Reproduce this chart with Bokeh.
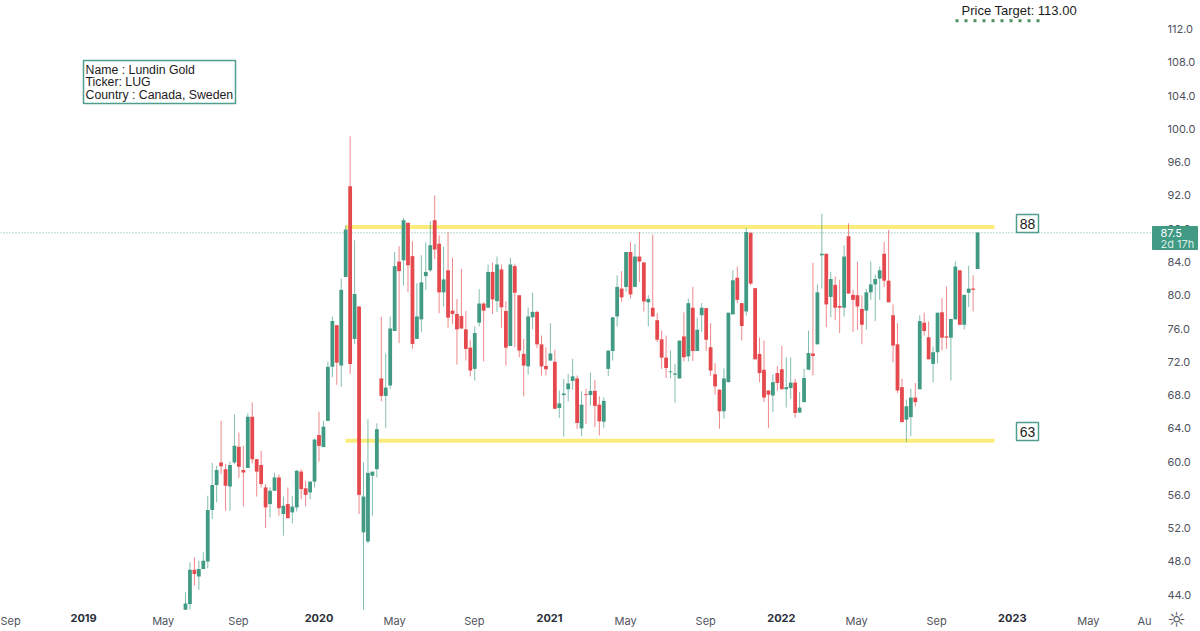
from bokeh.plotting import figure
from bokeh.models import Range1d, FixedTicker, Label, LinearAxis, NumeralTickFormatter
from bokeh.embed import file_html
from bokeh.resources import INLINE

open_ = [42.2,42.9,47.0,46.2,47.1,48.0,54.2,57.2,59.9,59.1,
 57.0,59.9,61.8,59.0,59.25,65.4,60.3,59.6,56.9,54.9,
 56.5,58.1,53.7,54.9,53.9,54.5,58.8,56.8,56.3,57.6,
 63.2,61.75,64.9,71.4,76.4,71.55,82.2,93.1,74.75,78.65,
 51.5,50.4,58.3,59.1,70.0,67.9,69.15,75.7,84.05,84.2,
 88.7,84.7,74.75,77.1,82.3,83.0,89.0,86.2,80.35,83.0,
 78.15,77.75,77.5,75.9,73.7,71.15,76.7,79.0,78.5,82.8,
 79.3,83.1,78.1,73.9,83.5,80.0,72.95,71.45,77.35,78.0,
 74.1,71.5,72.15,72.0,66.45,68.0,68.7,69.7,70.0,64.0,
 68.1,68.0,68.5,66.85,64.8,71.15,73.3,77.45,80.8,81.0,
 85.2,81.0,84.65,83.95,79.15,78.5,77.0,74.7,72.5,70.75,
 70.45,70.0,75.05,72.65,78.5,73.3,77.6,78.45,73.75,70.5,
 68.65,66.05,69.55,77.7,82.1,79.05,78.05,87.5,80.85,72.95,
 71.05,68.55,67.95,70.65,71.1,68.7,68.85,69.5,65.9,67.15,
 71.05,73.0,74.1,84.8,85.0,79.8,81.25,78.7,78.5,87.1,
 80.05,80.0,78.35,78.15,80.35,81.3,82.0,85.0,81.75,77.6,
 74.1,68.95,65.05,65.35,67.7,68.7,76.7,74.95,71.75,73.15,
 77.95,75.05,74.9,77.1,83.0,76.45,80.3,80.8,83.15]

close = [42.95,47.0,46.5,47.1,48.1,54.2,57.2,59.0,59.45,57.1,
 59.6,61.9,59.4,58.7,65.4,60.3,58.8,57.3,54.5,56.5,
 58.1,54.4,54.7,53.2,54.6,58.9,56.7,56.0,57.6,62.65,
 61.9,64.2,71.4,76.9,71.9,80.65,87.9,71.75,80.15,56.0,
 55.8,58.65,58.8,63.9,67.9,68.9,76.0,83.5,82.9,89.0,
 83.6,74.15,77.45,81.55,82.8,86.0,85.5,80.35,81.9,77.3,
 77.75,75.9,76.0,73.55,70.95,75.45,79.0,78.15,82.8,79.5,
 83.7,78.55,73.7,83.7,80.3,73.35,71.55,77.45,78.0,74.1,
 71.45,71.1,73.0,66.35,67.0,68.2,69.4,70.25,64.65,66.85,
 68.0,68.5,66.7,64.85,67.3,73.35,77.35,81.0,79.75,85.2,
 80.1,84.65,84.05,79.25,79.55,77.45,74.65,72.5,71.25,70.85,
 70.6,74.55,72.55,79.05,73.3,75.85,78.5,74.65,70.95,69.05,
 66.05,70.0,77.9,81.8,79.45,76.3,87.6,81.4,72.3,70.65,
 67.7,68.05,69.55,69.45,68.7,68.95,69.5,65.85,66.5,70.05,
 73.05,72.7,80.35,85.0,78.9,81.95,78.5,78.5,84.65,80.2,
 79.45,78.65,76.45,80.35,81.3,81.95,83.0,81.75,79.15,73.95,
 68.55,64.75,66.65,67.7,67.15,76.9,75.7,72.3,73.15,77.9,
 74.9,74.9,77.15,83.45,76.45,80.05,80.8,80.65,87.55]

high = [44.3,47.9,48.5,48.1,49.1,55.9,59.85,59.5,64.9,59.7,
 60.0,65.7,63.5,61.9,65.8,67.1,60.3,61.3,57.3,56.9,
 58.65,58.45,55.8,56.9,55.9,59.0,59.1,57.7,57.6,62.8,
 66.0,64.9,72.0,77.4,76.4,82.0,88.4,99.1,86.6,78.65,
 59.9,65.1,58.8,64.6,77.4,73.0,77.45,85.2,85.9,89.3,
 88.7,86.5,81.45,84.8,86.35,88.9,92.0,87.2,85.85,87.6,
 84.5,79.55,83.15,78.1,74.65,76.25,80.75,79.15,83.7,83.9,
 84.65,83.7,79.3,84.5,83.8,80.0,74.75,78.5,80.3,78.15,
 75.15,73.75,76.65,73.45,68.55,69.95,70.55,72.35,70.35,68.45,
 68.75,70.7,69.85,67.85,67.75,73.35,77.35,82.4,82.9,85.2,
 86.4,86.2,87.6,83.95,80.0,87.3,77.85,75.75,75.15,73.35,
 71.75,74.55,77.95,79.6,81.0,77.3,79.05,78.45,76.65,71.85,
 68.65,71.2,77.9,83.0,83.45,79.05,88.1,87.5,80.85,74.9,
 74.55,68.55,70.5,71.5,73.9,72.55,72.55,69.95,68.35,71.15,
 75.75,83.9,81.3,89.8,85.0,82.8,82.25,81.85,86.0,88.65,
 80.65,84.05,79.95,80.75,84.05,82.5,83.45,86.4,87.85,78.9,
 76.65,69.95,67.45,68.75,69.45,77.6,77.9,76.85,73.85,77.9,
 79.65,81.05,77.15,84.05,83.0,80.05,83.55,82.4,87.55]

low = [42.2,42.2,45.1,44.6,47.1,47.2,53.1,55.1,58.5,54.1,
 54.1,59.7,58.05,54.6,59.25,59.8,55.8,56.9,52.0,53.3,
 56.5,53.5,51.1,53.2,52.6,54.0,55.5,54.6,55.5,56.9,
 60.0,61.75,64.9,70.15,69.25,69.0,82.2,70.55,74.15,53.7,
 42.2,50.2,53.5,58.1,67.25,64.05,68.75,75.7,74.25,81.15,
 80.35,73.55,74.75,75.55,80.65,82.8,84.35,77.85,78.65,76.1,
 76.55,71.65,76.0,72.15,70.25,69.75,76.25,72.05,78.5,77.75,
 78.0,76.1,71.55,73.9,73.75,72.55,67.85,70.45,75.9,73.65,
 70.35,70.35,72.15,66.35,65.25,63.0,67.25,68.65,63.95,63.05,
 64.55,66.75,64.15,63.15,64.05,70.3,72.15,76.25,79.2,80.4,
 79.6,81.0,81.6,78.05,76.25,77.4,74.35,71.15,70.05,70.05,
 67.1,70.0,72.05,72.05,72.1,73.3,75.55,73.3,70.3,68.05,
 63.95,65.15,69.55,77.7,79.05,74.55,77.55,81.2,72.3,69.55,
 67.15,64.05,65.95,68.55,68.7,66.5,67.55,65.25,65.9,67.15,
 71.05,70.35,74.1,80.8,76.15,77.35,77.05,75.45,77.45,80.2,
 75.55,75.85,74.1,75.85,79.4,76.9,79.45,80.95,79.15,71.95,
 68.25,64.75,62.35,63.05,66.65,68.7,75.15,72.3,69.55,71.85,
 73.35,73.55,69.75,77.1,76.45,75.9,78.6,78.05,83.15]

month_ticks = [-39.5, -5.0, 11.9, 47.0, 64.9, 98.9, 116.9, 150.8, 168.8, 202.9, 215.5]
month_labels = ["Sep", "May", "Sep", "May", "Sep", "May", "Sep", "May", "Sep", "May", "Au"]
year_ticks = [-22.9, 30.0, 81.8, 133.9, 185.8]
year_labels = ["2019", "2020", "2021", "2022", "2023"]
price_ticks = [44, 48, 52, 56, 60, 64, 68, 72, 76, 80, 84, 88, 92, 96, 100, 104, 108, 112]

last_price = 87.5
resistance = 88.2
support = 62.5
target = 113.0

GREEN = "#419a84"
RED = "#e5484d"
BORDER = "#4f9d8d"
YELLOW = "#fcec7c"
AXIS_TEXT = "#50535e"


def x_at(px):
    return (px - 185) / 4.45


def y_at(py):
    return 112 - (py - 28.5) / 8.32


p = figure(width=1200, height=631, output_backend="svg", toolbar_location=None,
           x_range=Range1d(x_at(0), x_at(1200)), y_range=Range1d(y_at(631), y_at(0)),
           x_axis_location="below", y_axis_location="right",
           min_border_left=0, min_border_top=0, min_border_right=0, min_border_bottom=0,
           background_fill_color="white", border_fill_color="white", outline_line_color=None)
p.grid.visible = False


def style_axis(ax, color=AXIS_TEXT, weight="normal"):
    ax.axis_line_color = None
    ax.major_tick_line_color = None
    ax.minor_tick_line_color = None
    ax.major_label_text_font = "Inter"
    ax.major_label_text_font_size = "11px"
    ax.major_label_text_color = color
    ax.major_label_text_font_style = weight


style_axis(p.xaxis[0])
style_axis(p.yaxis[0])

p.xaxis[0].ticker = FixedTicker(ticks=month_ticks)
p.xaxis[0].major_label_overrides = dict(zip(month_ticks, month_labels))
p.xaxis[0].major_label_standoff = 4
p.xaxis[0].fixed_location = y_at(603)
p.yaxis[0].ticker = FixedTicker(ticks=price_ticks)
p.yaxis[0].formatter = NumeralTickFormatter(format="0.0")
p.yaxis[0].major_label_standoff = 11
p.yaxis[0].fixed_location = x_at(1150)

year_axis = LinearAxis(ticker=FixedTicker(ticks=year_ticks),
                       major_label_overrides=dict(zip(year_ticks, year_labels)),
                       major_label_standoff=4, fixed_location=y_at(603))
style_axis(year_axis, "#2a2e39", "bold")
p.add_layout(year_axis, "below")

# reference lines
p.line([x_at(0), x_at(1150)], [last_price, last_price], line_color=BORDER, line_width=1,
       line_dash="1 2", line_alpha=0.8)
p.line([x_at(345), x_at(994)], [resistance, resistance], line_color=YELLOW, line_width=4)
p.line([x_at(345), x_at(994)], [support, support], line_color=YELLOW, line_width=4)
p.line([x_at(955), x_at(1040)], [target, target], line_color="#4f8f5f", line_width=3,
       line_dash="3 6")

# candles
bars = list(range(len(close)))
up = [i for i in bars if close[i] >= open_[i]]
down = [i for i in bars if close[i] < open_[i]]
for idx, col in ((up, GREEN), (down, RED)):
    xs = [bars[i] for i in idx]
    p.segment(xs, [low[i] for i in idx], xs, [high[i] for i in idx], line_color=col,
              line_width=1, line_alpha=0.65)
    p.vbar(xs, width=0.85, bottom=[min(open_[i], close[i]) for i in idx],
           top=[max(open_[i], close[i]) for i in idx], fill_color=col, line_color=None)


def text(px, py, s, size="12.3px", color="#1c1c1c", font="Liberation Sans", align="left", style="normal"):
    p.add_layout(Label(x=x_at(px), y=y_at(py), text=s, text_font=font, text_font_size=size,
                       text_color=color, text_align=align, text_baseline="middle",
                       text_font_style=style, level="overlay"))


def box(l, t, r, b, fill="white", line=BORDER, lw=1.5):
    p.quad(left=[x_at(l)], right=[x_at(r)], top=[y_at(t)], bottom=[y_at(b)],
           fill_color=fill, line_color=line, line_width=lw, level="overlay")


# info box
box(83, 60, 235, 103)
text(85, 69, "Name : Lundin Gold")
text(85, 81.5, "Ticker: LUG")
text(85, 94, "Country : Canada, Sweden")

# level boxes
box(1016, 214, 1038, 232)
text(1027, 223.5, "88", size="14px", align="center")
box(1016, 422, 1038, 440)
text(1027, 431.5, "63", size="14px", align="center")

# price target
text(961, 10, "Price Target: 113.00", size="13px")

# last-price tag
box(1152, 226, 1197, 249, fill=GREEN, line=GREEN, lw=1)
text(1160, 232, "87.5", size="11px", color="white", font="Inter")
text(1160, 243, "2d 17h", size="11px", color="#d5ece6", font="Inter")

# settings icon
text(1176, 619.5, "\u263c", size="21px", color="#50535e", font="DejaVu Sans", align="center")

open("out.html", "w").write(file_html(p, INLINE))
